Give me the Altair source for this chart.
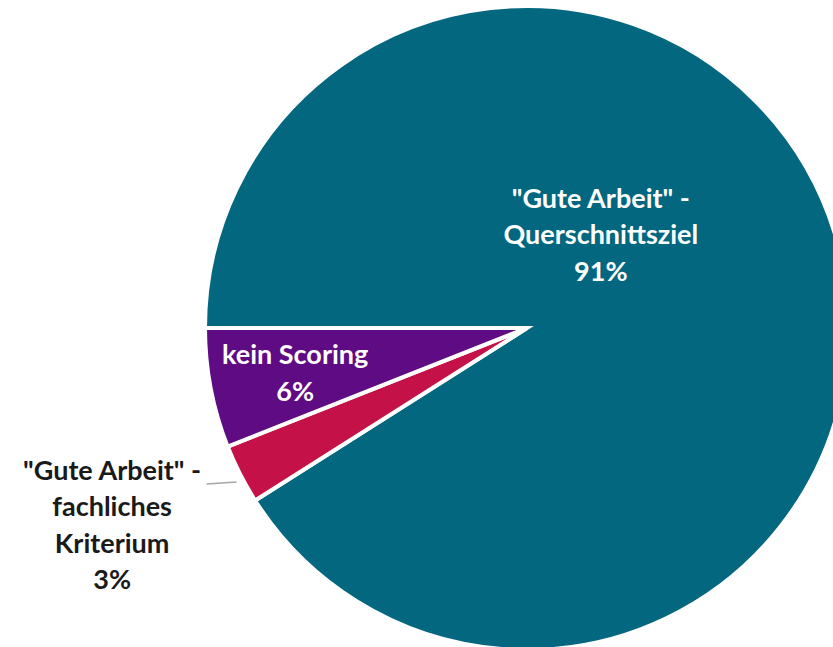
import math
import altair as alt
import pandas as pd

categories = ['"Gute Arbeit" - Querschnittsziel', '"Gute Arbeit" - fachliches Kriterium', 'kein Scoring']
values = [91, 3, 6]
order = [0, 1, 2]
colors = ["#03677F", "#C41248", "#5F0B83"]
label_lines = [
    ['"Gute Arbeit" -', 'Querschnittsziel', '91%'],
    ['"Gute Arbeit" -', 'fachliches', 'Kriterium', '3%'],
    ['kein Scoring', '6%'],
]

df = pd.DataFrame({
    "cat": categories,
    "value": values,
    "order": order,
    "label": label_lines,
})

CX, CY, R = 527, 328, 322
START = 1.5 * math.pi

base = alt.Chart(df).transform_joinaggregate(
    total="sum(value)"
).transform_window(
    cum="sum(value)", sort=[alt.SortField("order")]
).transform_calculate(
    mid=f"{START} + 2*PI*(datum.cum - datum.value/2)/datum.total"
)

pie = alt.Chart(df).mark_arc(
    outerRadius=R, stroke="white", strokeWidth=4
).encode(
    theta=alt.Theta("value:Q", stack=True, scale=alt.Scale(range=[START, START + 2 * math.pi])),
    order=alt.Order("order:Q"),
    color=alt.Color("cat:N", scale=alt.Scale(domain=categories, range=colors), legend=None),
    x=alt.value(CX),
    y=alt.value(CY),
)

def label(cat, radius, dx, dy, color):
    return base.transform_filter(alt.datum.cat == cat).mark_text(
        radius=radius, dx=dx, dy=dy, font="Lato", fontWeight="bold", fontSize=27,
        lineHeight=36.5, align="center", baseline="middle", color=color,
    ).encode(
        theta=alt.Theta("mid:Q", scale=None, stack=None),
        text="label",
        x=alt.value(CX),
        y=alt.value(CY),
    )

t1 = label(categories[0], 80, -3, -106, "white")
t2 = label(categories[1], 460, -5, -65, "#1a1a1a")
t3 = label(categories[2], 235, -1, -16, "white")

leader = base.transform_filter(alt.datum.cat == categories[1]).transform_calculate(
    lx=f"{CX} + 326*sin(datum.mid)",
    ly=f"{CY} - 326*cos(datum.mid) + 6",
).transform_calculate(
    lx2="datum.lx - 30", ly2="datum.ly + 2"
).mark_rule(color="#A6A6A6", strokeWidth=1.5).encode(
    x=alt.X("lx:Q", scale=None), y=alt.Y("ly:Q", scale=None),
    x2="lx2:Q", y2="ly2:Q",
)

chart = alt.layer(pie, leader, t1, t2, t3).properties(
    width=833, height=647, autosize="none", padding=0
).configure_view(stroke=None)

chart.save("out.html", embed_options={"renderer": "svg", "actions": False})
